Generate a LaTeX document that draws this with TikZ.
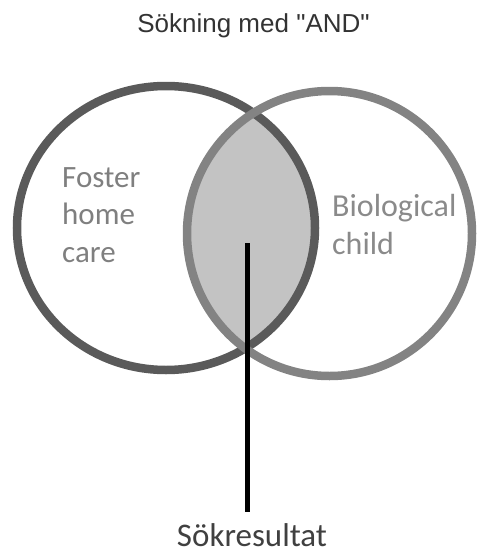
\documentclass[tikz,border=0pt]{standalone}
\usepackage{fontspec}
\setmainfont{Carlito}
\newfontfamily\headfont{Liberation Sans}
\usepackage{tikz}
\usetikzlibrary{positioning}
\definecolor{fosterline}{HTML}{5A5A5A}
\definecolor{bioline}{HTML}{838383}
\definecolor{overlap}{HTML}{C3C3C3}
\definecolor{fostertext}{HTML}{7F7F7F}
\definecolor{biotext}{HTML}{8A8A8A}
\tikzstyle{setname}=[inner sep=0pt, align=left, anchor=base west,
  font=\fontsize{31}{37.5}\selectfont]
\tikzstyle{ring}=[line width=8.5pt]

\begin{document}
\begin{tikzpicture}[x=1pt, y=-1pt,
  heading/.style={anchor=base, inner sep=0pt, text=black!80,
                  font=\headfont\fontsize{26}{30}\selectfont},
  result/.style={anchor=base, inner sep=0pt, text=black!75,
                 font=\fontsize{33}{40}\selectfont}]
\useasboundingbox (0,0) rectangle (482,554);
\node[heading] (title) at (253.5,32) {Sökning med "AND"};
% the overlap of the two sets
\begin{scope}
  \clip (166,228) ellipse [x radius=149pt, y radius=142pt];
  \fill[overlap] (329.5,233.5) circle [radius=142.5pt];
\end{scope}
\draw[ring, fosterline] (166,228) ellipse [x radius=149pt, y radius=142pt];
\draw[ring, bioline] (329.5,233.5) circle [radius=142.5pt];
\node[setname, text=fostertext] (foster) at (62,262) {Foster\\home\\care};
\node[setname, text=biotext, font=\fontsize{32}{37.5}\selectfont] (bio) at (332,254) {Biological\\child};
\coordinate (hit) at (247,243);
\node[result] (res) at (252,546) {Sökresultat};
\draw[line width=5pt] (hit) -- ([yshift=11pt]hit |- res.north);
\end{tikzpicture}
\end{document}
